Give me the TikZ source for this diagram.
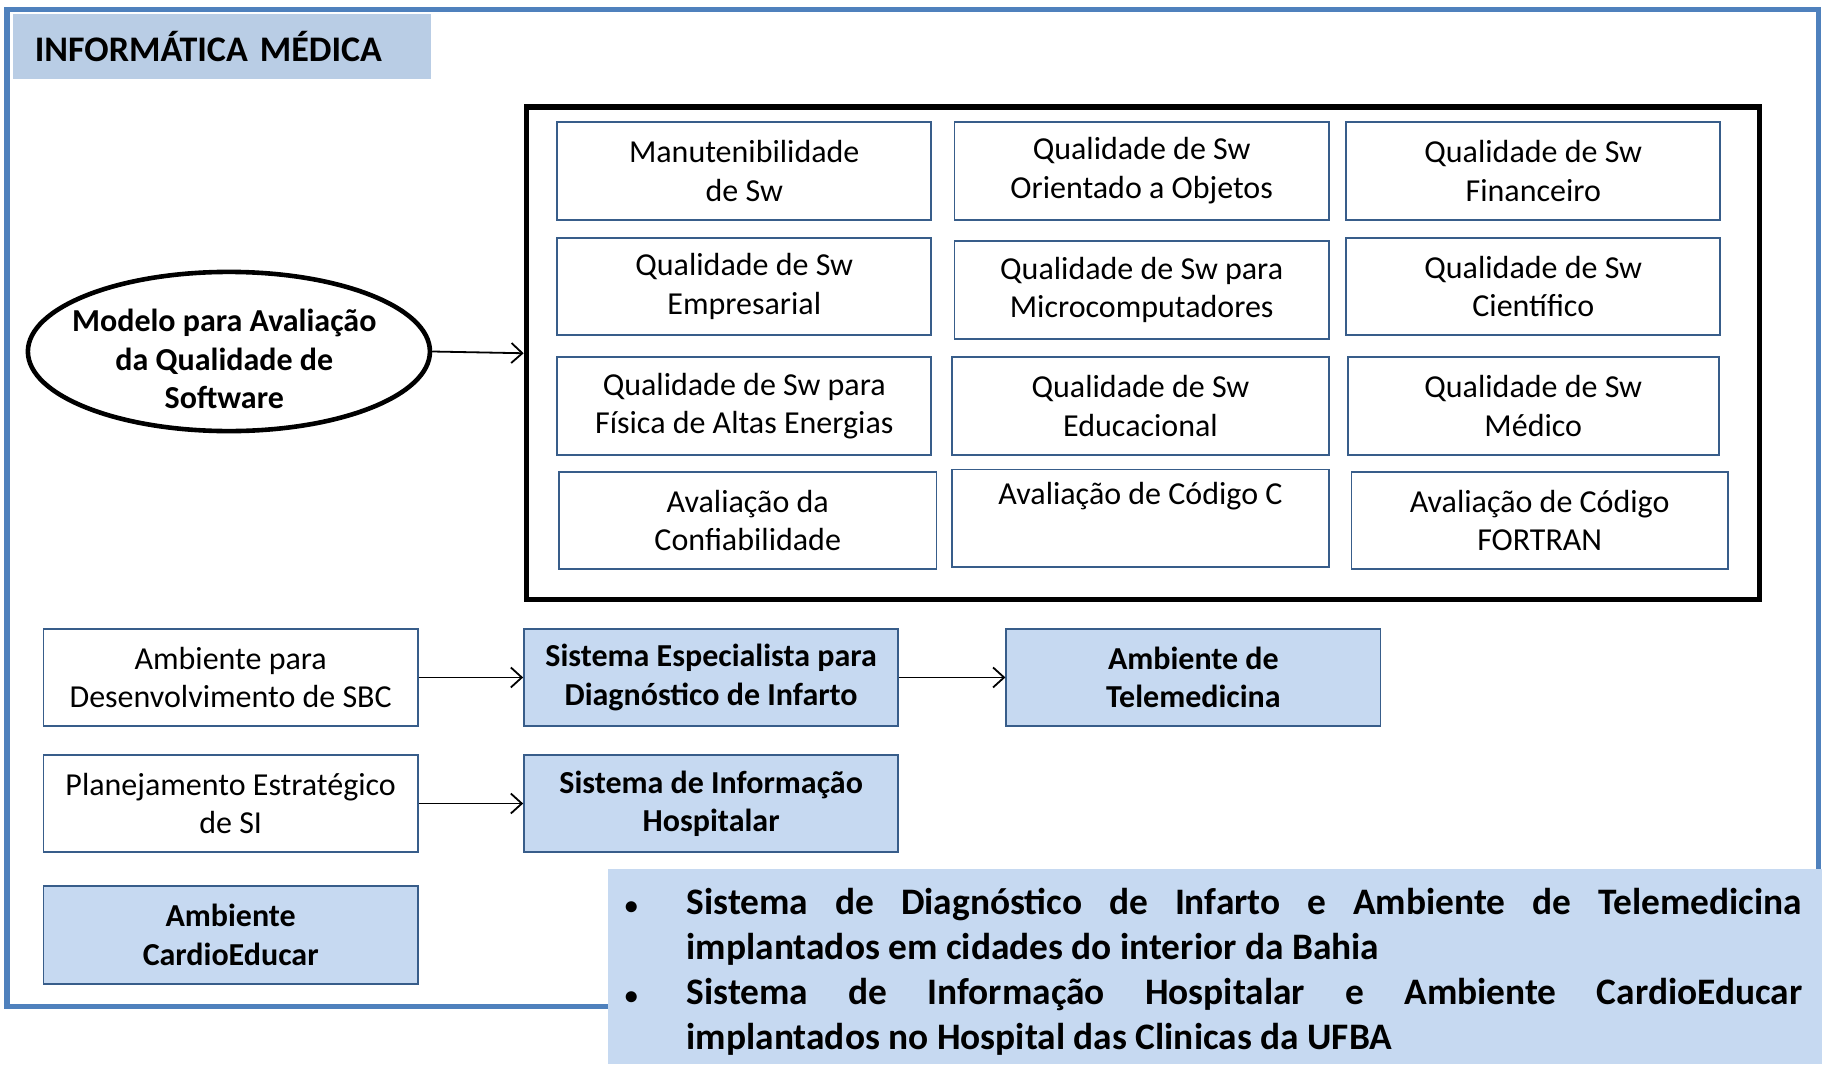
\documentclass[tikz,border=0pt]{standalone}
\usepackage{fontspec}
\setmainfont{Carlito}
\usetikzlibrary{arrows.meta, positioning, shapes.geometric}

\newlength\pxu
\setlength\pxu{0.581pt}

\definecolor{frameblue}{RGB}{79,129,189}
\definecolor{titleblue}{RGB}{185,205,229}
\definecolor{boxblue}{RGB}{198,217,241}
\definecolor{edgeblue}{RGB}{56,93,138}

\newcommand{\resbullet}{\noindent\llap{{\fontsize{13}{13}\selectfont\textbullet}\hspace{42\pxu}}}

\begin{document}
\begin{tikzpicture}[
            x = 0.581pt, y = -0.581pt, % one unit = one pixel of the sketch
            > = {Straight Barb[length=5.5pt, width=10pt]}, % open arrow head
            link/.style = {->, line width = 0.9pt}
        ]

        \tikzset{
            swbox/.style = {
                draw = edgeblue,
                line width = 0.9pt,
                fill = white,
                inner sep = 0pt,
                align = center,
                minimum width = 322\pxu,
                minimum height = 84\pxu,
                font = \fontsize{16}{19.2}\selectfont
            },
            bluebox/.style = {
                swbox,
                fill = boxblue,
                font = \fontsize{16}{19.2}\selectfont\bfseries
            }
        }

        \useasboundingbox (0,0) rectangle (1568,916);

        % outer frame
        \draw[frameblue, line width = 2.6pt] (6,8) rectangle (1565,866);
        \node[fill = titleblue, minimum width = 360\pxu, minimum height = 56\pxu,
              text width = 322\pxu, align = left, inner sep = 0pt,
              font = \fontsize{18}{21}\selectfont\bfseries] (title) at (191,40) {INFORMÁTICA MÉDICA};

        % quality model
        \node[ellipse, draw = black, line width = 2.3pt, fill = white, inner sep = 0pt,
              minimum width = 346\pxu, minimum height = 137\pxu] (model) at (197,302.5) {};
        \node[align = center, inner sep = 0pt,
              font = \fontsize{16}{19.2}\selectfont\bfseries] (modeltext) at (193,309)
              {Modelo para Avaliação\\da Qualidade de\\Software};

        \node[draw = black, line width = 2.7pt, minimum width = 1061\pxu,
              minimum height = 424\pxu] (grid) at (983.5,304) {};

        \node[swbox] (manut) at (640.5,147) {Manutenibilidade\\de Sw};
        \node[swbox] (oo) at (982.5,147) {Qualidade de Sw\\Orientado a Objetos};
        \node[swbox] (fin) at (1319.5,147) {Qualidade de Sw\\Financeiro};

        \node[swbox] (emp) at (640.5,246.5) {Qualidade de Sw\\Empresarial};
        \node[swbox] (micro) at (982.5,249.5) {Qualidade de Sw para\\Microcomputadores};
        \node[swbox] (cient) at (1319.5,246.5) {Qualidade de Sw\\Científico};

        \node[swbox] (fisica) at (640.5,349.5) {Qualidade de Sw para\\Física de Altas Energias};
        \node[swbox, minimum width = 325\pxu] (educ) at (981.5,349.5) {Qualidade de Sw\\Educacional};
        \node[swbox, minimum width = 319\pxu] (medico) at (1319.5,349.5) {Qualidade de Sw\\Médico};

        \node[swbox, minimum width = 325\pxu] (confiab) at (643.5,448) {Avaliação da\\Confiabilidade};
        \node[swbox, minimum width = 325\pxu] (codc) at (981.5,446) {Avaliação de Código C\\\strut};
        \node[swbox, minimum width = 324\pxu] (fortran) at (1325,448) {Avaliação de Código\\FORTRAN};

        \draw[link] (model.east) -- (grid.west);

        % systems
        \node[swbox] (sbc) at (198.5,583) {Ambiente para\\Desenvolvimento de SBC};
        \node[swbox] (plan) at (198.5,691.5) {Planejamento Estratégico\\de SI};
        \node[bluebox] (cardio) at (198.5,804.5) {Ambiente\\CardioEducar};

        \node[bluebox] (infarto) at (612,583) {Sistema Especialista para\\Diagnóstico de Infarto};
        \node[bluebox] (sih) at (612,691.5) {Sistema de Informação\\Hospitalar};
        \node[bluebox] (tele) at (1027,583) {Ambiente de\\Telemedicina};

        \draw[link] (sbc) -- (infarto);
        \draw[link] (infarto) -- (tele);
        \draw[link] (plan) -- (sih);

        % results
        \node[fill = boxblue, minimum width = 1045\pxu, minimum height = 168\pxu,
              inner sep = 0pt] (res) at (1045.5,832) {};
        \node[text width = 960\pxu, align = justify, inner sep = 0pt,
              font = \fontsize{18.7}{22.5}\selectfont\bfseries] (restext) at (1071,836)
              {\resbullet Sistema de Diagnóstico de Infarto e Ambiente de Telemedicina\linebreak
               implantados em cidades do interior da Bahia\par
               \resbullet Sistema de Informação Hospitalar e Ambiente CardioEducar\linebreak
               implantados no Hospital das Clinicas da UFBA};
    \end{tikzpicture}
\end{document}
